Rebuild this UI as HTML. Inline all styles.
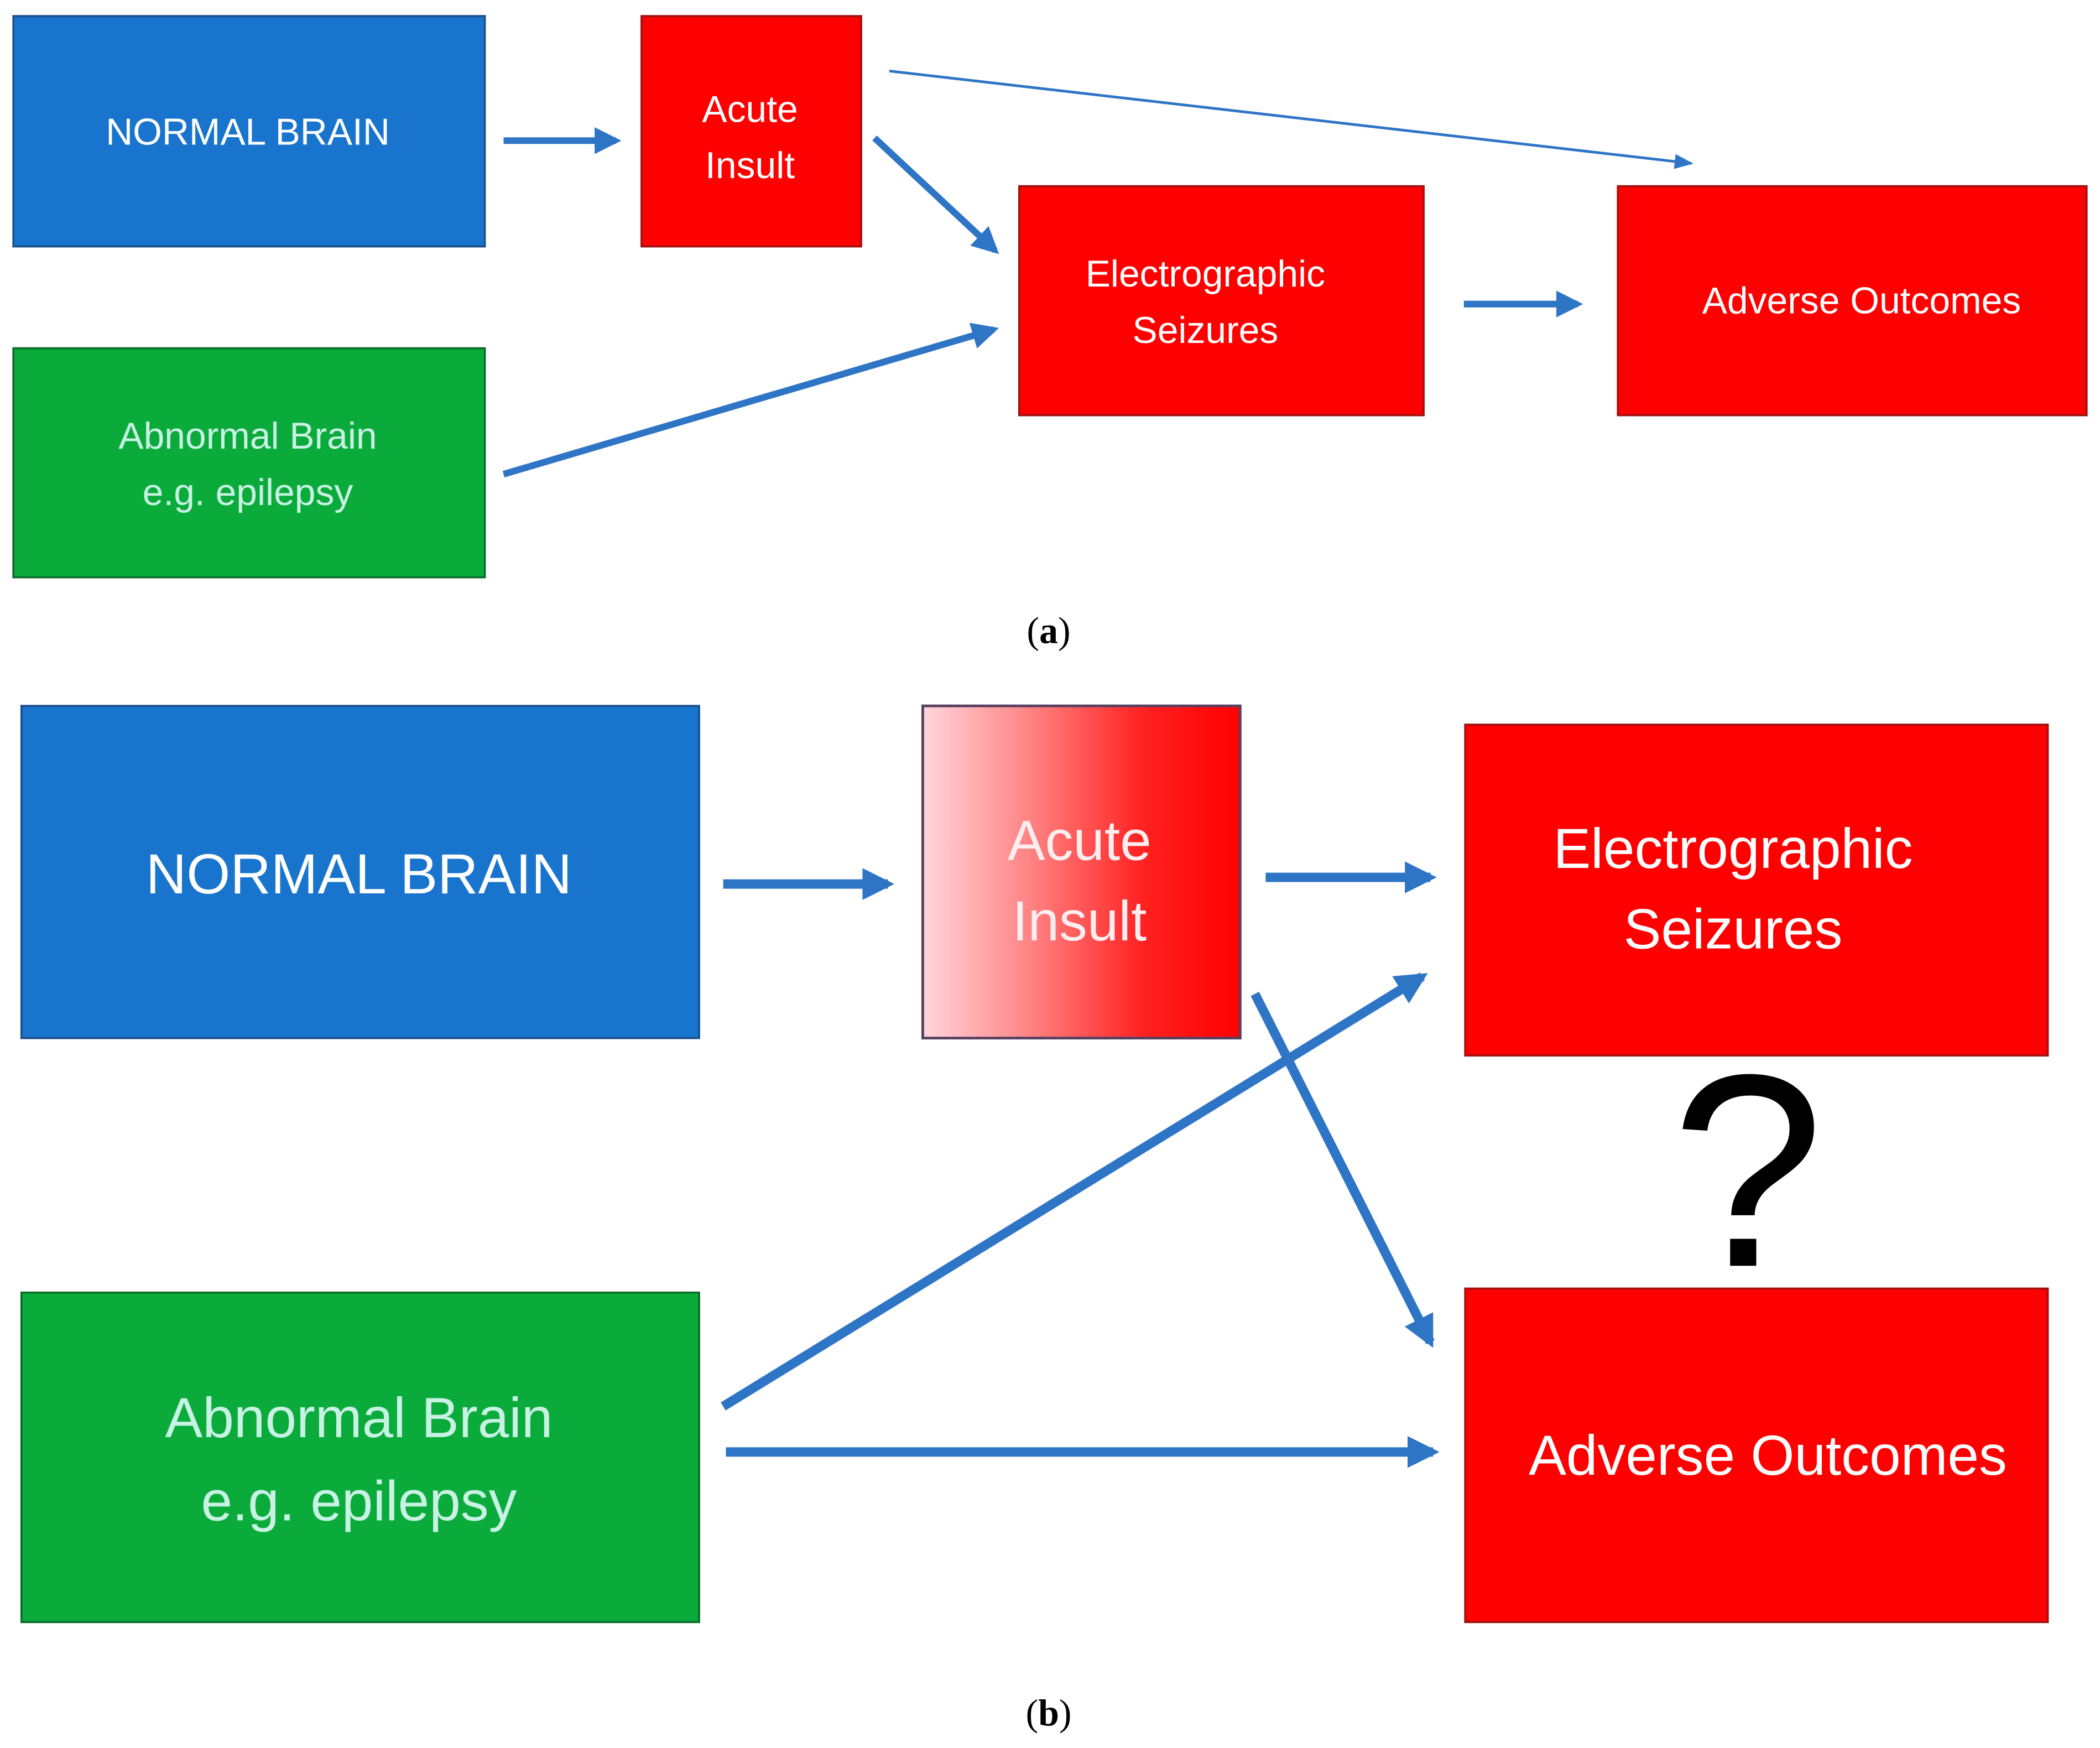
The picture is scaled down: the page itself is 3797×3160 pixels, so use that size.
<!DOCTYPE html>
<html><head><meta charset="utf-8"><style>html,body{margin:0;padding:0;background:#fff}svg{display:block}</style></head>
<body>
<svg width="3797" height="3160" viewBox="0 0 1568 1305" preserveAspectRatio="none" xmlns="http://www.w3.org/2000/svg" font-family="'Liberation Sans', sans-serif">
<defs>
<linearGradient id="g" x1="0" x2="1" y1="0" y2="0">
<stop offset="0" stop-color="#ffd6dc"/><stop offset="0.35" stop-color="#ff8080"/><stop offset="0.7" stop-color="#ff2020"/><stop offset="1" stop-color="#ff0000"/>
</linearGradient>
<marker id="ah" viewBox="0 0 10 10" refX="8" refY="5" markerWidth="4" markerHeight="4" orient="auto" markerUnits="strokeWidth"><path d="M0,0 L10,5 L0,10 z" fill="#2e75c6"/></marker>
<marker id="ahb" viewBox="0 0 10 10" refX="8" refY="5" markerWidth="3.4" markerHeight="3.4" orient="auto" markerUnits="strokeWidth"><path d="M0,0 L10,5 L0,10 z" fill="#2e75c6"/></marker>
<marker id="ah2" viewBox="0 0 10 10" refX="9" refY="5" markerWidth="7" markerHeight="7" orient="auto" markerUnits="strokeWidth"><path d="M0,1 L10,5 L0,9 z" fill="#2e75c6"/></marker>
</defs>
<rect width="1568" height="1305" fill="#fff"/>
<!-- (a) -->
<rect x="10" y="12" width="352" height="172" fill="#1874cd" stroke="#1a4f8a" stroke-width="1.5"/>
<text x="185" y="108" fill="#fff" font-size="28" text-anchor="middle">NORMAL BRAIN</text>
<rect x="479" y="12" width="164" height="172" fill="#ff0000" stroke="#a01010" stroke-width="1.5"/>
<text x="560" y="91" fill="#fff" font-size="28" text-anchor="middle">Acute</text>
<text x="560" y="133" fill="#fff" font-size="28" text-anchor="middle">Insult</text>
<rect x="761" y="139" width="302" height="171" fill="#ff0000" stroke="#a01010" stroke-width="1.5"/>
<text x="900" y="214" fill="#fff" font-size="28" text-anchor="middle">Electrographic</text>
<text x="900" y="256" fill="#fff" font-size="28" text-anchor="middle">Seizures</text>
<rect x="1208" y="139" width="350" height="171" fill="#ff0000" stroke="#a01010" stroke-width="1.5"/>
<text x="1390" y="234" fill="#fff" font-size="28" text-anchor="middle">Adverse Outcomes</text>
<rect x="10" y="260" width="352" height="171" fill="#0aab3a" stroke="#0a6a2a" stroke-width="1.5"/>
<text x="185" y="335" fill="#c8f2e4" font-size="28" text-anchor="middle">Abnormal Brain</text>
<text x="185" y="377" fill="#c8f2e4" font-size="28" text-anchor="middle">e.g. epilepsy</text>
<g stroke="#2e75c6" fill="none">
<line x1="376" y1="105" x2="460" y2="105" stroke-width="5" marker-end="url(#ah)"/>
<line x1="653" y1="103" x2="743" y2="187" stroke-width="5" marker-end="url(#ah)"/>
<line x1="376" y1="354" x2="742" y2="246" stroke-width="5" marker-end="url(#ah)"/>
<line x1="1093" y1="227" x2="1178" y2="227" stroke-width="5" marker-end="url(#ah)"/>
<line x1="664" y1="53" x2="1263" y2="122" stroke-width="2" marker-end="url(#ah2)"/>
</g>
<text x="783" y="480" font-family="'Liberation Serif', serif" font-size="28" text-anchor="middle">(<tspan font-weight="bold">a</tspan>)</text>
<!-- (b) -->
<rect x="16" y="527" width="506" height="248" fill="#1874cd" stroke="#1a4f8a" stroke-width="1.5"/>
<text x="268" y="667" fill="#fff" font-size="42" text-anchor="middle">NORMAL BRAIN</text>
<rect x="689" y="527" width="237" height="248" fill="url(#g)" stroke="#5a4060" stroke-width="2"/>
<text x="806" y="642" fill="#ffeef0" font-size="42" text-anchor="middle">Acute</text>
<text x="806" y="702" fill="#ffeef0" font-size="42" text-anchor="middle">Insult</text>
<rect x="1094" y="541" width="435" height="247" fill="#ff0000" stroke="#a01010" stroke-width="1.5"/>
<text x="1294" y="648" fill="#fff" font-size="42" text-anchor="middle">Electrographic</text>
<text x="1294" y="708" fill="#fff" font-size="42" text-anchor="middle">Seizures</text>
<rect x="1094" y="962" width="435" height="249" fill="#ff0000" stroke="#a01010" stroke-width="1.5"/>
<text x="1320" y="1101" fill="#fff" font-size="42" text-anchor="middle">Adverse Outcomes</text>
<rect x="16" y="965" width="506" height="246" fill="#0aab3a" stroke="#0a6a2a" stroke-width="1.5"/>
<text x="268" y="1073" fill="#c8f2e4" font-size="42" text-anchor="middle">Abnormal Brain</text>
<text x="268" y="1135" fill="#c8f2e4" font-size="42" text-anchor="middle">e.g. epilepsy</text>
<g stroke="#2e75c6" fill="none" stroke-width="7">
<line x1="540" y1="660" x2="663" y2="660" marker-end="url(#ahb)"/>
<line x1="945" y1="655" x2="1068" y2="655" marker-end="url(#ahb)"/>
<line x1="540" y1="1050" x2="1062" y2="729" marker-end="url(#ahb)"/>
<line x1="937" y1="742" x2="1068" y2="1002" marker-end="url(#ahb)"/>
<line x1="542" y1="1084" x2="1070" y2="1084" marker-end="url(#ahb)"/>
</g>
<text x="1305" y="945" font-size="205" text-anchor="middle" fill="#000">?</text>
<text x="783" y="1288" font-family="'Liberation Serif', serif" font-size="28" text-anchor="middle">(<tspan font-weight="bold">b</tspan>)</text>
</svg>
</body></html>
